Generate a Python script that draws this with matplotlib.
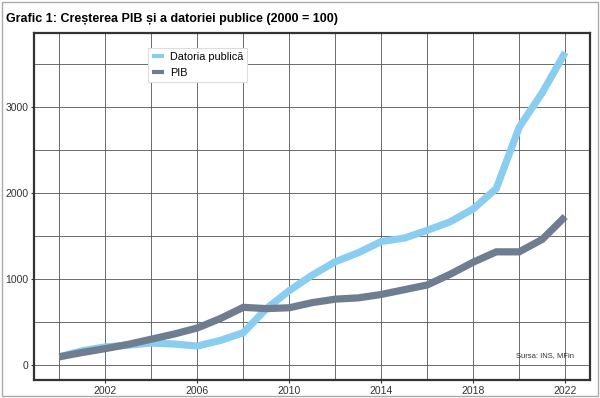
import numpy as np
import matplotlib
matplotlib.use('Agg')
import matplotlib.pyplot as plt
from matplotlib.patches import Rectangle

plt.rcParams['font.family'] = ['Liberation Sans', 'DejaVu Sans']

# data (2000 = 100)
years = list(range(2000, 2023))
datoria = [100, 170, 215, 235, 260, 248, 225, 290, 380, 660, 870, 1050, 1205,
           1310, 1440, 1480, 1570, 1670, 1820, 2055, 2770, 3170, 3640]
pib = [100, 150, 195, 245, 305, 365, 435, 545, 675, 660, 670, 730, 770,
       785, 825, 880, 935, 1060, 1200, 1320, 1320, 1465, 1730]

x_labels = [2002, 2006, 2010, 2014, 2018, 2022]
y_labels = [0, 1000, 2000, 3000]

fig = plt.figure(figsize=(6, 3.98), dpi=100)
ax = fig.add_axes([0.057, 0.045, 0.926, 0.872])

ax.plot(years, datoria, color='#89cdf0', lw=5.2, label='Datoria publică',
        solid_capstyle='butt', solid_joinstyle='miter')
ax.plot(years, pib, color='#6f7d90', lw=5.2, label='PIB',
        solid_capstyle='butt', solid_joinstyle='miter')

ax.set_xlim(1998.9, 2023.07)
ax.set_ylim(-171, 3864)
ax.set_xticks(x_labels)
ax.set_xticks(range(2000, 2023, 2), minor=True)
ax.set_yticks(y_labels)
ax.set_yticks(range(500, 4000, 1000), minor=True)
ax.grid(True, which='both', color='#555555', lw=0.6)
ax.set_axisbelow(True)
ax.tick_params(which='major', length=2, width=0.8, labelsize=7.5,
               colors='#333333', pad=2)
ax.tick_params(which='minor', length=0)
for s in ax.spines.values():
    s.set_linewidth(1.6)
    s.set_color('#333333')

leg = ax.legend(loc='upper left', bbox_to_anchor=(0.205, 0.957),
                borderaxespad=0, fontsize=7.8, fancybox=False,
                handlelength=1.1, handletextpad=0.5, edgecolor='#dddddd',
                framealpha=1)
leg.get_frame().set_linewidth(0.8)
for h in leg.get_lines():
    h.set_linewidth(3)

ax.text(0.971, 0.072, 'Sursa: INS, MFin', transform=ax.transAxes,
        ha='right', va='center', fontsize=5.5, color='#333333')

fig.text(0.01, 0.952, 'Grafic 1: Creșterea PIB și a datoriei publice (2000 = 100)',
         fontsize=9, fontweight='bold', va='center', ha='left')

fig.patches.append(Rectangle((0.004, 0.006), 0.992, 0.988, transform=fig.transFigure,
                             fill=False, edgecolor='#aaaaaa', lw=1))

fig.savefig('out.png', dpi=100)
